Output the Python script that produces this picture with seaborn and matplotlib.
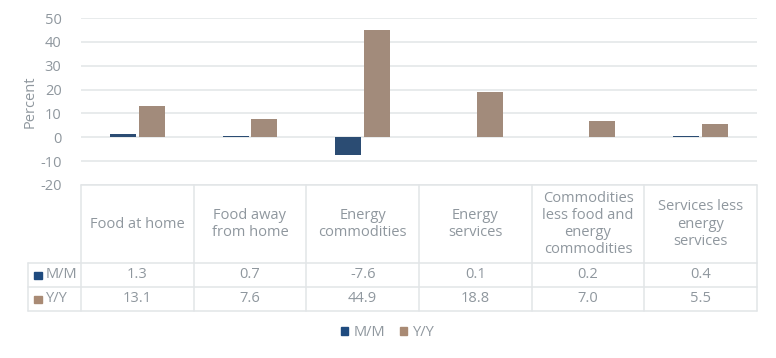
import pandas as pd
import matplotlib.pyplot as plt
import seaborn as sns
from matplotlib.patches import Patch, Rectangle

# -------------------------------------------------------------
# DATA
# -------------------------------------------------------------
categories = ['Food at home', 'Food away\nfrom home', 'Energy\ncommodities',
              'Energy\nservices', 'Commodities\nless food and\nenergy\ncommodities',
              'Services less\nenergy\nservices']
series = ['M/M', 'Y/Y']
mm_values = [1.3, 0.7, -7.6, 0.1, 0.2, 0.4]
yy_values = [13.1, 7.6, 44.9, 18.8, 7.0, 5.5]
y_ticks = [-20, -10, 0, 10, 20, 30, 40, 50]

colors = ['#1f4b7f', '#a98a74']
text_color = '#8f979e'
line_color = '#e2e5e7'

df = pd.DataFrame({
    'category': categories * 2,
    'series': [series[0]] * len(categories) + [series[1]] * len(categories),
    'value': mm_values + yy_values,
})

# -------------------------------------------------------------
# STYLE
# -------------------------------------------------------------
sns.set_theme(style='white')
plt.rcParams['font.family'] = ['Open Sans', 'DejaVu Sans']
plt.rcParams['font.size'] = 10.5
plt.rcParams['axes.unicode_minus'] = False
FS = 10.5

W, H = 776, 358
fig = plt.figure(figsize=(W / 100, H / 100), dpi=100)
ax = fig.add_axes([81 / W, 1 - 185 / H, (757 - 81) / W, (185 - 18) / H])

sns.barplot(data=df, x='category', y='value', hue='series', order=categories,
            hue_order=series, palette=colors, width=0.51, gap=0.1,
            linewidth=0, legend=False, ax=ax)

ax.set_xlim(-0.5, len(categories) - 0.5)
ax.set_ylim(y_ticks[0], y_ticks[-1])
ax.set_yticks(y_ticks)
ax.set_xticks([])
ax.set_xlabel('')
ax.set_ylabel('Percent', color=text_color, fontsize=FS, labelpad=2)
ax.tick_params(axis='y', colors=text_color, labelsize=FS, length=0, pad=14)
for s in ax.spines.values():
    s.set_visible(False)
for t in y_ticks:
    ax.axhline(t, color=line_color, lw=1.1, zorder=0)

# -------------------------------------------------------------
# DATA TABLE (below plot)
# -------------------------------------------------------------
tr = ax.get_xaxis_transform()
px = 1 / (185 - 18)          # one pixel in axes-y units
y_top = 0.0
y_head = -(263 - 185) * px
y_mm = -(287 - 185) * px
y_yy = -(311 - 185) * px
n = len(categories)
col_px = (757 - 81) / n
x_left = -0.5 - (81 - 28) / col_px

lk = dict(color=line_color, lw=1.1, transform=tr, clip_on=False)
ax.plot([-0.5, n - 0.5], [y_top, y_top], **lk)
for yy in [y_head, y_mm, y_yy]:
    ax.plot([x_left, n - 0.5], [yy, yy], **lk)
for i in range(n + 1):
    ax.plot([i - 0.5, i - 0.5], [y_top, y_yy], **lk)
ax.plot([x_left, x_left], [y_head, y_yy], **lk)

for i, cat in enumerate(categories):
    ax.text(i, (y_top + y_head) / 2, cat, transform=tr, ha='center', va='center',
            color=text_color, fontsize=FS, linespacing=1.2)
    ax.text(i, (y_head + y_mm) / 2, f'{mm_values[i]:.1f}', transform=tr,
            ha='center', va='center', color=text_color, fontsize=FS)
    ax.text(i, (y_mm + y_yy) / 2, f'{yy_values[i]:.1f}', transform=tr,
            ha='center', va='center', color=text_color, fontsize=FS)

for j, (name, yc) in enumerate([(series[0], (y_head + y_mm) / 2),
                                 (series[1], (y_mm + y_yy) / 2)]):
    ax.add_patch(Rectangle((-0.5 - (81 - 34) / col_px, yc - 3.5 * px), 8 / col_px, 7 * px,
                           transform=tr, color=colors[j], clip_on=False))
    ax.text(-0.5 - (81 - 46) / col_px, yc, name, transform=tr, ha='left', va='center',
            color=text_color, fontsize=FS)

# -------------------------------------------------------------
# LEGEND
# -------------------------------------------------------------
handles = [Patch(color=c, label=s) for c, s in zip(colors, series)]
leg = fig.legend(handles=handles, loc='center', bbox_to_anchor=(0.5, 1 - 333 / H),
                 ncol=2, frameon=False, fontsize=FS, handlelength=0.5,
                 handleheight=0.5, handletextpad=0.4, columnspacing=1.0)
for t in leg.get_texts():
    t.set_color(text_color)

plt.savefig('out.png', dpi=100)
